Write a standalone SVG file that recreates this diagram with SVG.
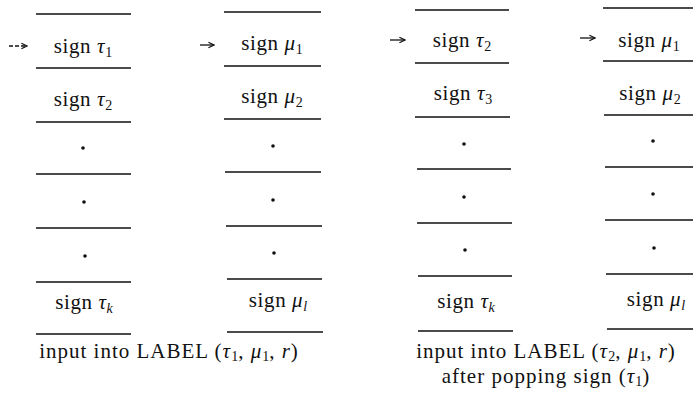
<svg xmlns="http://www.w3.org/2000/svg" width="693" height="396" viewBox="0 0 693 396">
<defs>
<style>
.rule{stroke:#111;stroke-width:1.6;fill:none}
.t{font-family:"Liberation Serif","Times New Roman",serif;font-size:21px;letter-spacing:0.6px;fill:#111;text-anchor:middle}
.c{letter-spacing:1px}
.i{font-style:italic}
.s{font-size:14px;letter-spacing:0}
.dot{fill:#111}
.arr{stroke:#111;stroke-width:1.3;fill:none}
</style>
<marker id="ah" viewBox="0 0 10 10" refX="9" refY="5" markerWidth="8" markerHeight="8" orient="auto" markerUnits="userSpaceOnUse">
<path d="M2,1.5 L9,5 L2,8.5" fill="none" stroke="#111" stroke-width="1.4"/>
</marker>
</defs>
<rect width="693" height="396" fill="#fff"/>

<g id="stack-tau">
<path class="rule" d="M36,14H131M36,68H131M36,122H131M36,174H131M36,228H131M36,282H131M36,334H131"/>
<text class="t" x="83" y="53">sign <tspan class="i">τ</tspan><tspan class="s" dy="4">1</tspan></text>
<text class="t" x="83" y="106">sign <tspan class="i">τ</tspan><tspan class="s" dy="4">2</tspan></text>
<circle class="dot" cx="83" cy="148" r="1.8"/>
<circle class="dot" cx="84" cy="202" r="1.8"/>
<circle class="dot" cx="85" cy="256" r="1.8"/>
<text class="t" x="84" y="309">sign <tspan class="i">τ</tspan><tspan class="s i" dy="4">k</tspan></text>
</g>

<g id="stack-mu">
<path class="rule" d="M224,12H321M224,66H321M224,119H321M225,172H321M226,226H322M227,279H322M227,332H323"/>
<text class="t" x="272" y="50">sign <tspan class="i">μ</tspan><tspan class="s" dy="4">1</tspan></text>
<text class="t" x="272" y="103">sign <tspan class="i">μ</tspan><tspan class="s" dy="4">2</tspan></text>
<circle class="dot" cx="273" cy="146" r="1.8"/>
<circle class="dot" cx="273" cy="200" r="1.8"/>
<circle class="dot" cx="274" cy="253" r="1.8"/>
<text class="t" x="278" y="307">sign <tspan class="i">μ</tspan><tspan class="s i" dy="4">l</tspan></text>
</g>

<g id="stack-tau-popped">
<path class="rule" d="M415,10H509M415,63H509M415,117H510M417,169H511M417,223H512M418,276H512M418,331H513"/>
<text class="t" x="462" y="47">sign <tspan class="i">τ</tspan><tspan class="s" dy="4">2</tspan></text>
<text class="t" x="463" y="100">sign <tspan class="i">τ</tspan><tspan class="s" dy="4">3</tspan></text>
<circle class="dot" cx="464" cy="144" r="1.8"/>
<circle class="dot" cx="464" cy="197" r="1.8"/>
<circle class="dot" cx="465" cy="250" r="1.8"/>
<text class="t" x="466" y="308">sign <tspan class="i">τ</tspan><tspan class="s i" dy="4">k</tspan></text>
</g>

<g id="stack-mu-2">
<path class="rule" d="M603,8H693M603,61H693M604,115H693M605,167H693M605,220H693M606,274H693M607,329H693"/>
<text class="t" x="649" y="47">sign <tspan class="i">μ</tspan><tspan class="s" dy="4">1</tspan></text>
<text class="t" x="650" y="100">sign <tspan class="i">μ</tspan><tspan class="s" dy="4">2</tspan></text>
<circle class="dot" cx="653" cy="141" r="1.8"/>
<circle class="dot" cx="653" cy="194" r="1.8"/>
<circle class="dot" cx="654" cy="248" r="1.8"/>
<text class="t" x="656" y="306">sign <tspan class="i">μ</tspan><tspan class="s i" dy="4">l</tspan></text>
</g>

<g id="connectors">
<path class="arr" d="M9,46H27" stroke-dasharray="4,2" marker-end="url(#ah)"/>
<path class="arr" d="M200,45H214" marker-end="url(#ah)"/>
<path class="arr" d="M390,40H405" marker-end="url(#ah)"/>
<path class="arr" d="M580,38H595" marker-end="url(#ah)"/>
</g>

<g id="captions">
<text class="t c" x="169" y="358">input into LABEL (<tspan class="i">τ</tspan><tspan class="s" dy="3">1</tspan><tspan dy="-3">, </tspan><tspan class="i">μ</tspan><tspan class="s" dy="3">1</tspan><tspan dy="-3">, </tspan><tspan class="i">r</tspan>)</text>
<text class="t c" x="546" y="358">input into LABEL (<tspan class="i">τ</tspan><tspan class="s" dy="3">2</tspan><tspan dy="-3">, </tspan><tspan class="i">μ</tspan><tspan class="s" dy="3">1</tspan><tspan dy="-3">, </tspan><tspan class="i">r</tspan>)</text>
<text class="t c" x="546" y="383">after popping sign (<tspan class="i">τ</tspan><tspan class="s" dy="3">1</tspan><tspan dy="-3">)</tspan></text>
</g>
</svg>
